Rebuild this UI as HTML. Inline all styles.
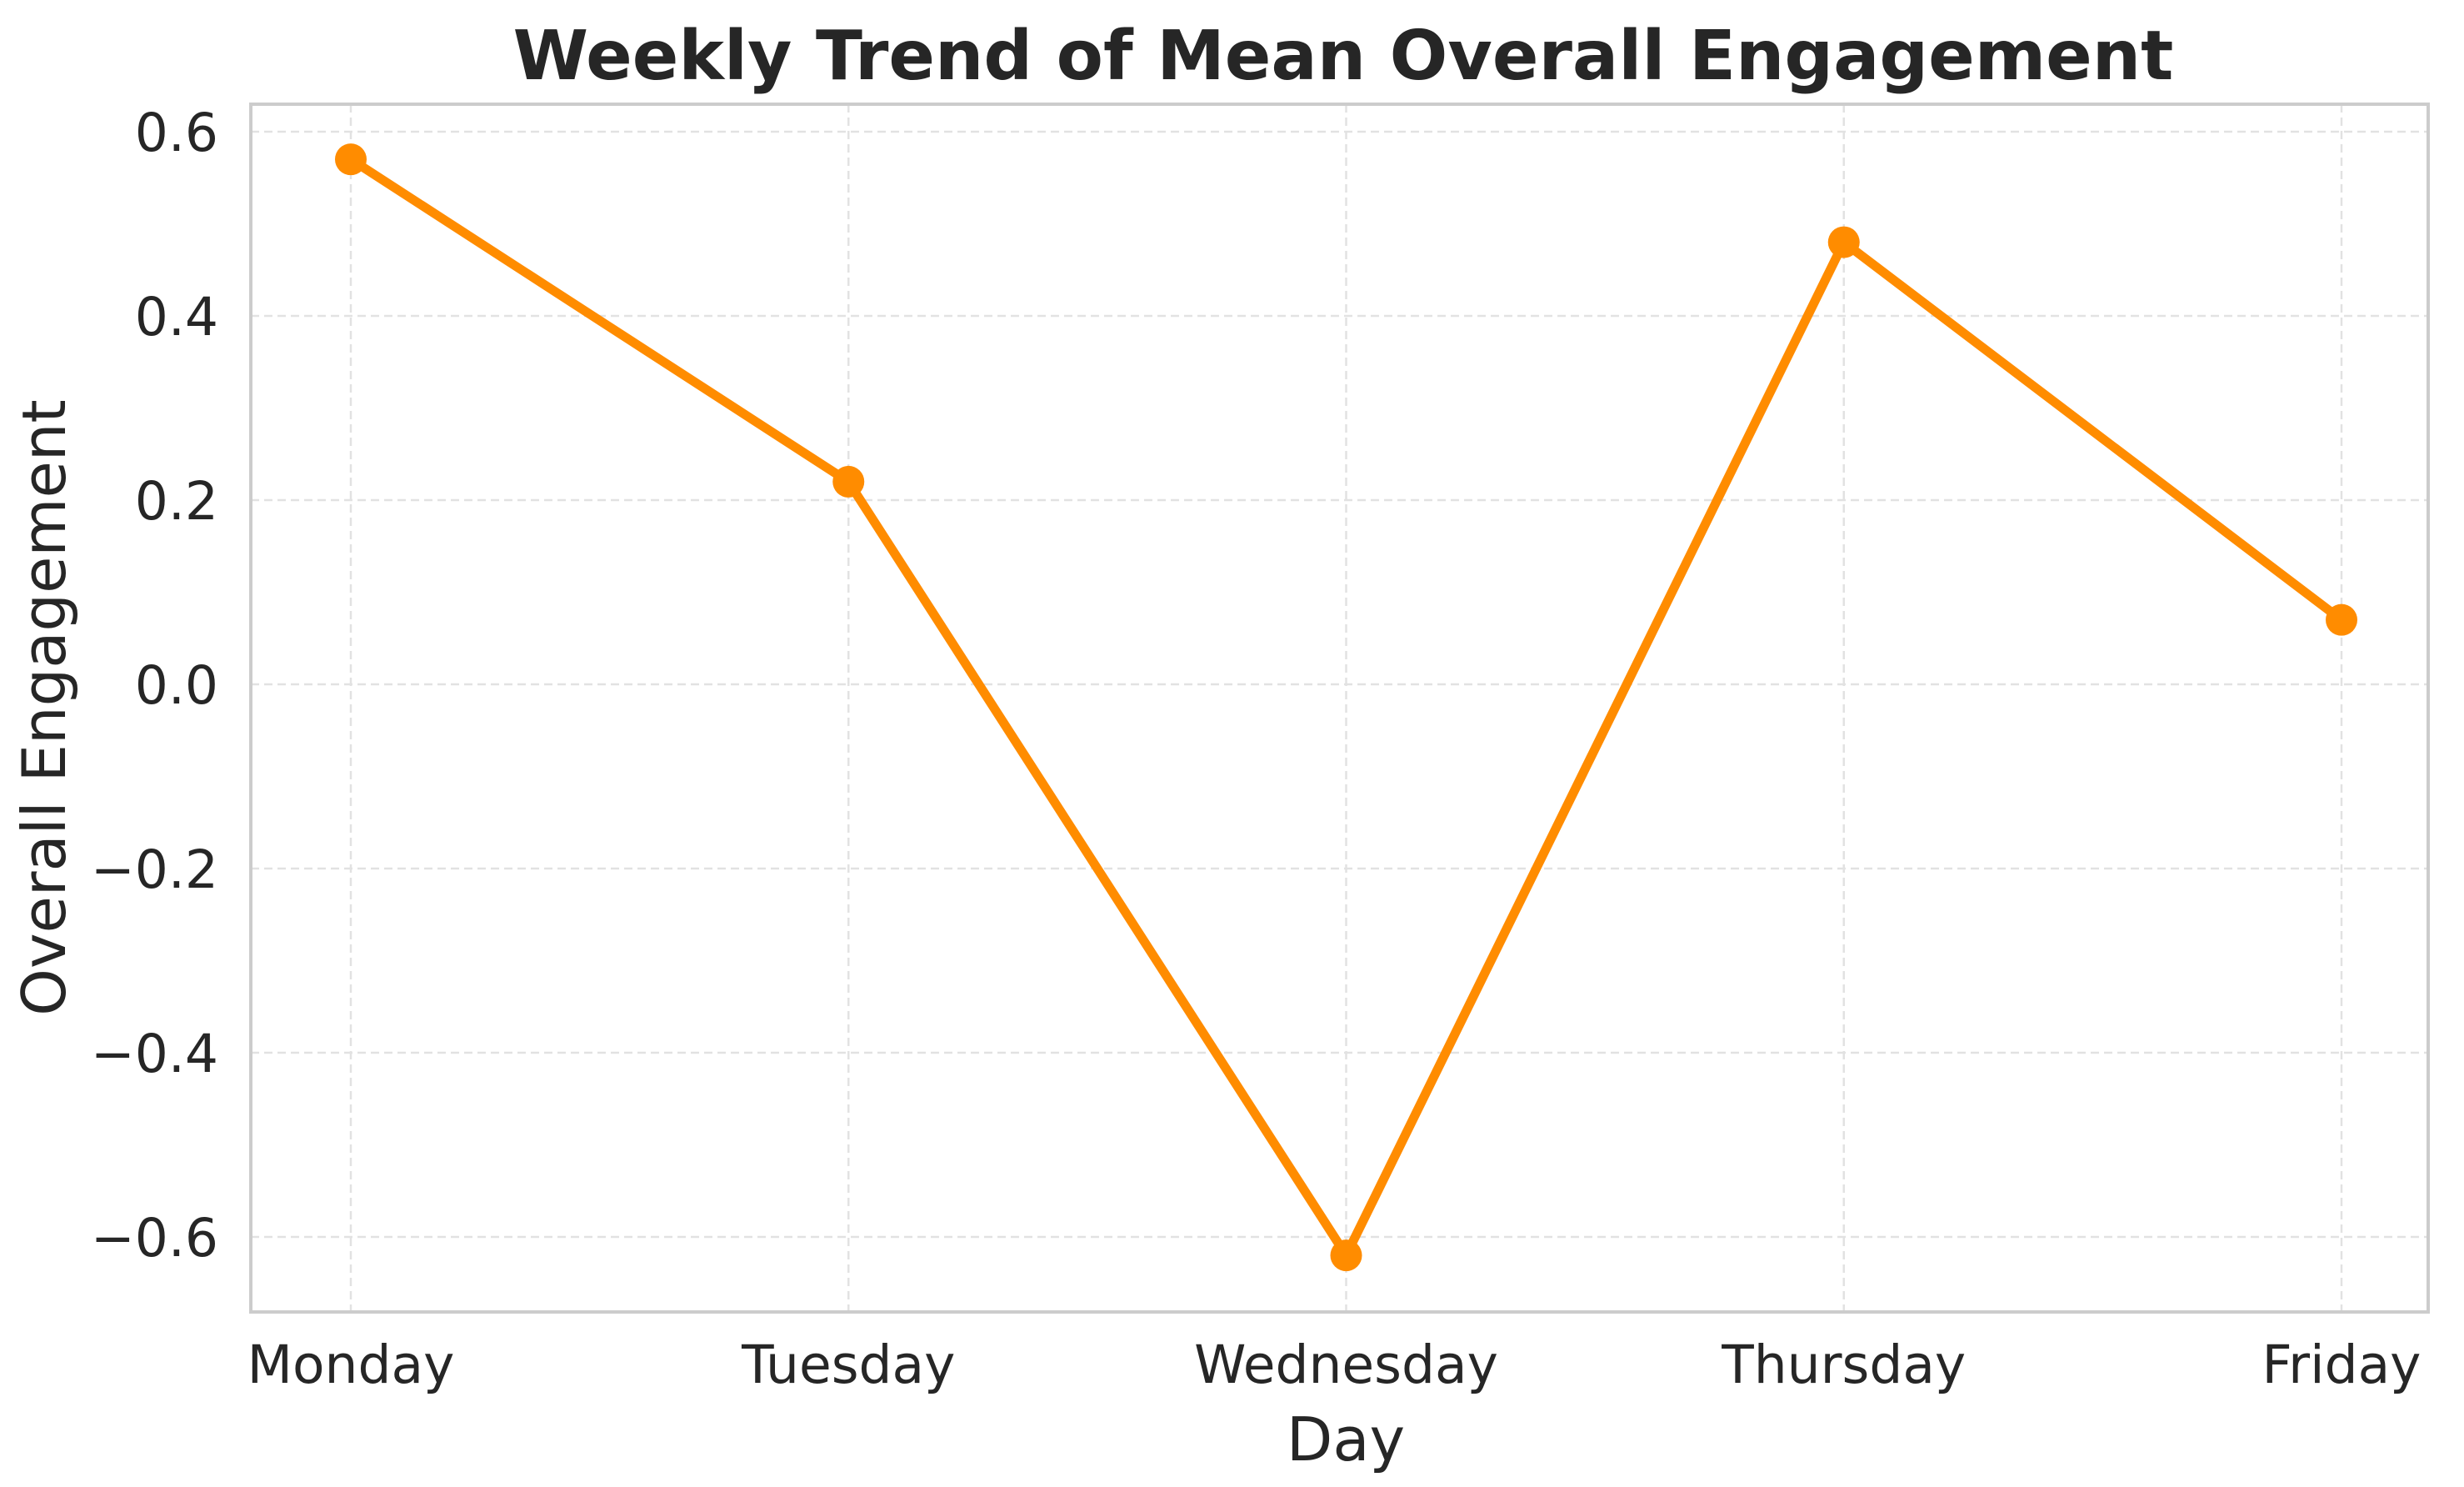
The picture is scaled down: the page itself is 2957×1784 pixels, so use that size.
<!DOCTYPE html>
<html><head><meta charset="utf-8"><style>
html,body{margin:0;padding:0;background:#fff;}
svg{display:block;font-family:"DejaVu Sans","Liberation Sans",sans-serif;}
</style></head><body>
<svg id="chart" width="2957" height="1784" viewBox="0 0 2957 1784" xmlns="http://www.w3.org/2000/svg">
<rect width="2957" height="1784" fill="#fff"/>
<text x="1612" y="95" text-anchor="middle" font-size="82" font-weight="bold" fill="#262626">Weekly Trend of Mean Overall Engagement</text>
<g id="grid"></g>
<g id="yticks"></g>
<g id="xticks"></g>
<rect x="301" y="125" width="2613" height="1449" fill="none" stroke="#cccccc" stroke-width="4"/>
<g id="series"></g>
<text x="1615" y="1752" text-anchor="middle" font-size="72" fill="#262626">Day</text>
<text transform="translate(78,849) rotate(-90)" text-anchor="middle" font-size="72" fill="#262626">Overall Engagement</text>
</svg>
<script>
const days = ["Monday","Tuesday","Wednesday","Thursday","Friday"];
const engagement = [0.57, 0.22, -0.62, 0.48, 0.07];
const yTickValues = [-0.6,-0.4,-0.2,0.0,0.2,0.4,0.6];
const yTickLabels = ["\u22120.6","\u22120.4","\u22120.2","0.0","0.2","0.4","0.6"];

const NS="http://www.w3.org/2000/svg";
const L=301,R=2914,T=125,B=1574;
const x0=421,x1=2810;
function xScale(i){return x0+(x1-x0)*i/(days.length-1);}
function yScale(v){return 821-v*1105;}
function mk(tag,attrs,parent){const e=document.createElementNS(NS,tag);for(const k in attrs)e.setAttribute(k,attrs[k]);parent.appendChild(e);return e;}

const grid=document.getElementById('grid');
const yt=document.getElementById('yticks');
const xt=document.getElementById('xticks');
const ser=document.getElementById('series');

yTickValues.forEach((v,i)=>{
  const y=yScale(v);
  const g=mk('line',{x1:L,x2:R,y1:y,y2:y,stroke:'#e2e2e2','stroke-width':2.5,'stroke-dasharray':'10,6'},grid);
  
  
  const t=mk('text',{x:262,y:y+23,'text-anchor':'end','font-size':63,fill:'#262626'},yt);
  t.textContent=yTickLabels[i];
  
  
});
days.forEach((d,i)=>{
  const x=xScale(i);
  const g=mk('line',{x1:x,x2:x,y1:T,y2:B,stroke:'#e2e2e2','stroke-width':2.5,'stroke-dasharray':'10,6'},grid);
  
  
  const t=mk('text',{x:x,y:1659,'text-anchor':'middle','font-size':63,fill:'#262626'},xt);
  t.textContent=d;
  
  
});
const pts=engagement.map((v,i)=>xScale(i)+','+yScale(v)).join(' ');
const line=mk('polyline',{points:pts,fill:'none',stroke:'#ff8c00','stroke-width':11,'stroke-linejoin':'round'},ser);


engagement.forEach((v,i)=>{
  const c=mk('circle',{cx:xScale(i),cy:yScale(v),r:19,fill:'#ff8c00'},ser);
  
  
});
</script>
</body></html>
